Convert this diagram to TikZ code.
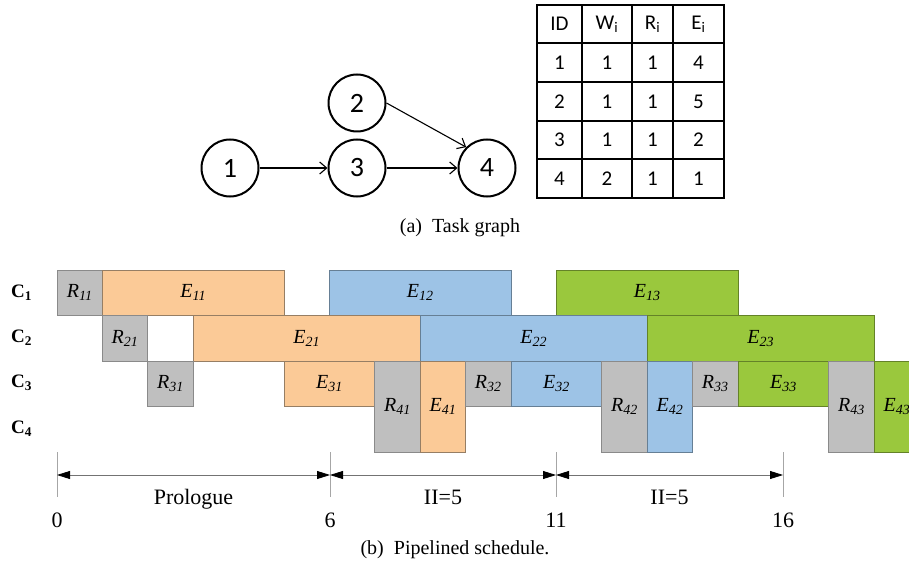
\documentclass[tikz,border=0pt]{standalone}
\usepackage{fontspec}
\setmainfont{Liberation Serif}
\newfontfamily\calfont{Carlito}
\usetikzlibrary{arrows.meta}

\definecolor{gfill}{HTML}{BFBFBF}
\definecolor{ofill}{HTML}{FBCA97}
\definecolor{bfill}{HTML}{9DC3E6}
\definecolor{grfill}{HTML}{9AC83D}

\tikzset{
  blk/.style={inner sep=0pt, line width=0.9pt, font=\fontsize{20}{22}\selectfont},
  rblk/.style={blk, fill=gfill, draw=gfill!72!black},
  oblk/.style={blk, fill=ofill, draw=ofill!62!black!80!gray},
  bblk/.style={blk, fill=bfill, draw=bfill!65!black},
  gblk/.style={blk, fill=grfill, draw=grfill!65!black},
  cell/.style={draw=black, line width=1.4pt, inner sep=0pt, font=\calfont\fontsize{21}{23}\selectfont},
  tnode/.style={circle, draw=black, line width=2pt, minimum size=57pt, inner sep=0pt, font=\calfont\fontsize{28}{30}\selectfont},
  tedge/.style={line width=1.1pt, -{Straight Barb[length=7pt,width=12pt,line width=1.1pt]}},
  rowlab/.style={anchor=west, inner sep=0pt, font=\bfseries\fontsize{19}{21}\selectfont},
  tick/.style={draw=black!35, line width=0.8pt},
  span/.style={draw=black!55, line width=0.8pt,
    {Triangle[length=13pt,width=8pt,fill=black,color=black]}-{Triangle[length=13pt,width=8pt,fill=black,color=black]}},
  axlab/.style={font=\fontsize{22}{24}\selectfont, inner sep=0pt},
  caption/.style={font=\fontsize{20}{22}\selectfont, inner sep=0pt}
}

% box from (x1,y1) to (x2,y2), centred text
\newcommand\boxnode[7]{%
  \pgfmathsetmacro\bxm{(#3+#4)/2}%
  \pgfmathsetmacro\bym{(#5+#6)/2}%
  \pgfmathsetmacro\bw{#4-#3}%
  \pgfmathsetmacro\bh{#6-#5}%
  \node[#1, minimum width=\bw pt, minimum height=\bh pt] (#2) at (\bxm,\bym) {#7};}

\newcommand\task[7]{%
  \pgfmathsetmacro\txa{57+45.4*#3}%
  \pgfmathsetmacro\txb{57+45.4*#4}%
  \boxnode{#1}{#2}{\txa}{\txb}{#5}{#6}{\textit{#7}}}

\begin{document}
\begin{tikzpicture}[x=1pt,y=-1pt]
\useasboundingbox (0,0) rectangle (909,569);
\clip (0,0) rectangle (909,569);

% ---------- task graph ----------
\node[tnode] (n1) at (230,168) {1};
\node[tnode] (n2) at (357,103) {2};
\node[tnode] (n3) at (357,168) {3};
\node[tnode] (n4) at (487,168) {4};
\draw[tedge] (n1) -- (n3);
\draw[tedge] (n3) -- (n4);
\draw[tedge] (n2.east) -- (n4.north west);

% ---------- table ----------
\foreach \r/\ya/\yb/\ta/\tb/\tc/\td in {
  0/5/43/ID/W\textsubscript{i}/R\textsubscript{i}/E\textsubscript{i},
  1/43/82/1/1/1/4,
  2/82/121/2/1/1/5,
  3/121/159/3/1/1/2,
  4/159/198/4/2/1/1}{
  \boxnode{cell}{c\r a}{537}{582}{\ya}{\yb}{\ta}
  \boxnode{cell}{c\r b}{582}{632}{\ya}{\yb}{\tb}
  \boxnode{cell}{c\r c}{632}{673}{\ya}{\yb}{\tc}
  \boxnode{cell}{c\r d}{673}{724}{\ya}{\yb}{\td}
}

\node[caption] (capa) at (460,228) {(a)~ Task graph};

% ---------- schedule ----------
\node[rowlab] (C1) at (11,293) {C\textsubscript{1}};
\node[rowlab] (C2) at (11,338) {C\textsubscript{2}};
\node[rowlab] (C3) at (11,383) {C\textsubscript{3}};
\node[rowlab] (C4) at (11,429) {C\textsubscript{4}};

\task{rblk}{R11}{0}{1}{270}{315.5}{R\textsubscript{11}}
\task{oblk}{E11}{1}{5}{270}{315.5}{E\textsubscript{11}}
\task{bblk}{E12}{6}{10}{270}{315.5}{E\textsubscript{12}}
\task{gblk}{E13}{11}{15}{270}{315.5}{E\textsubscript{13}}

\task{rblk}{R21}{1}{2}{315.5}{361}{R\textsubscript{21}}
\task{oblk}{E21}{3}{8}{315.5}{361}{E\textsubscript{21}}
\task{bblk}{E22}{8}{13}{315.5}{361}{E\textsubscript{22}}
\task{gblk}{E23}{13}{18}{315.5}{361}{E\textsubscript{23}}

\task{rblk}{R31}{2}{3}{361}{406.5}{R\textsubscript{31}}
\task{oblk}{E31}{5}{7}{361}{406.5}{E\textsubscript{31}}
\task{rblk}{R41}{7}{8}{361}{452}{R\textsubscript{41}}
\task{oblk}{E41}{8}{9}{361}{452}{E\textsubscript{41}}
\task{rblk}{R32}{9}{10}{361}{406.5}{R\textsubscript{32}}
\task{bblk}{E32}{10}{12}{361}{406.5}{E\textsubscript{32}}
\task{rblk}{R42}{12}{13}{361}{452}{R\textsubscript{42}}
\task{bblk}{E42}{13}{14}{361}{452}{E\textsubscript{42}}
\task{rblk}{R33}{14}{15}{361}{406.5}{R\textsubscript{33}}
\task{gblk}{E33}{15}{17}{361}{406.5}{E\textsubscript{33}}
\task{rblk}{R43}{17}{18}{361}{452}{R\textsubscript{43}}
\task{gblk}{E43}{18}{19}{361}{452}{E\textsubscript{43}}

% ---------- axis ----------
\foreach \t/\x in {0/57, 6/330, 11/556, 16/783}{
  \coordinate (top\t) at (\x,452);
  \coordinate (bot\t) at (\x,497);
  \coordinate (a\t) at (\x,475);
  \draw[tick] (top\t) -- (bot\t);
  \node[axlab, anchor=base] (num\t) at (\x,527) {\t};
}
\draw[span] (a0) -- (a6);
\draw[span] (a6) -- (a11);
\draw[span] (a11) -- (a16);
\node[axlab, anchor=base] (pro) at (193.5,504) {Prologue};
\node[axlab, anchor=base] (ii1) at (443,504) {II=5};
\node[axlab, anchor=base] (ii2) at (669.5,504) {II=5};

\node[caption] (capb) at (455,550) {(b)~ Pipelined schedule.};
\end{tikzpicture}
\end{document}
